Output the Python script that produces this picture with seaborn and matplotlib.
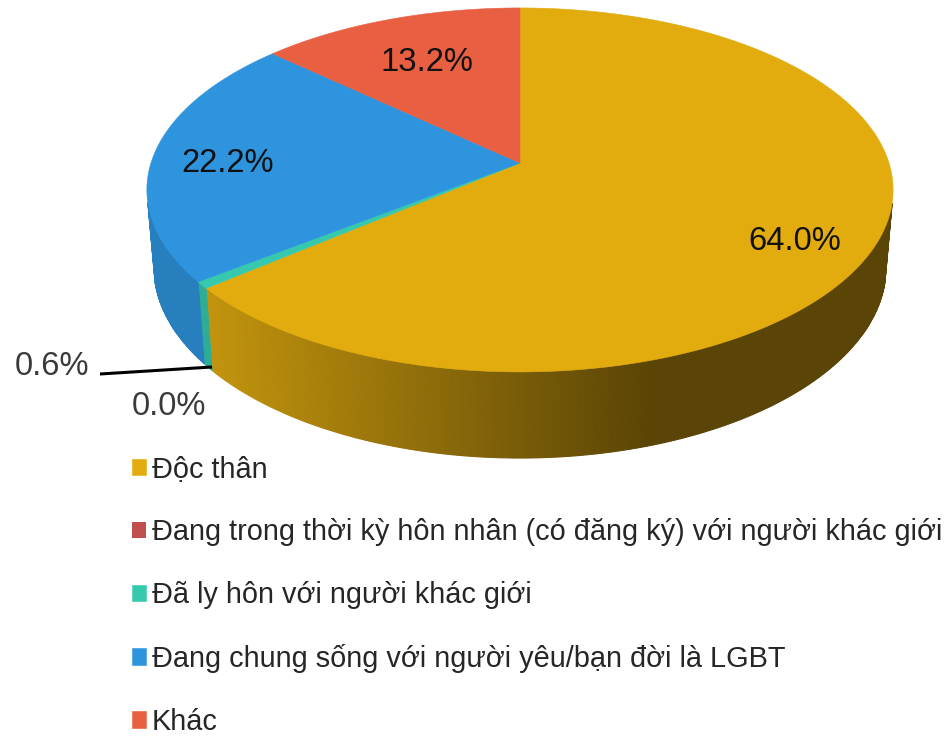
import numpy as np
import seaborn as sns
import matplotlib.pyplot as plt

labels = [
    "Độc thân",
    "Đang trong thời kỳ hôn nhân (có đăng ký) với người khác giới",
    "Đã ly hôn với người khác giới",
    "Đang chung sống với người yêu/bạn đời là LGBT",
    "Khác",
]
values = [64.0, 0.0, 0.6, 22.2, 13.2]
value_text = ["64.0%", "0.0%", "0.6%", "22.2%", "13.2%"]
colors = ["#E2AC0F", "#C0504D", "#36C9AE", "#2D94DD", "#E95F42"]

sns.set_theme(style="white")
plt.rcParams["font.family"] = ["Liberation Sans", "DejaVu Sans"]
palette = sns.color_palette(colors)


# perspective view of the pie: k tilts the disc, the rest are pixel sizes
def project(frac, top=True):
    a = 2 * np.pi * np.asarray(frac) / 100
    u, v = np.sin(a), np.cos(a)
    w = 1 + 0.148 * v
    if top:
        return 520 + 369 * u / w, 163 - 178 * v / w
    return 520 + 362 * u / w, 239 - 186.6 * v / w


def shade(x):
    return np.interp(x, [205, 650], [0.86, 0.40])


fig = plt.figure(figsize=(9.47, 7.37), dpi=100)
ax = fig.add_axes([0, 0, 1, 1])
ax.set_xlim(0, 947)
ax.set_ylim(737, 0)
ax.axis("off")

edges = np.concatenate([[0], np.cumsum(values)])

# side wall
for i, col in enumerate(palette):
    if values[i] == 0:
        continue
    n = max(int(values[i] * 8), 2)
    fr = np.linspace(edges[i], edges[i + 1], n + 1)
    xt, yt = project(fr)
    xb, yb = project(fr, top=False)
    for j in range(n):
        mid = (fr[j] + fr[j + 1]) / 2
        if np.cos(2 * np.pi * mid / 100) > -0.22:
            continue
        f = shade((xt[j] + xt[j + 1]) / 2)
        c = tuple(np.array(col) * f)
        ax.fill([xt[j], xt[j + 1], xb[j + 1], xb[j]], [yt[j], yt[j + 1], yb[j + 1], yb[j]],
                color=c, lw=0.8)

# top face
handles = []
for i, col in enumerate(palette):
    n = max(int(values[i] * 8), 2)
    fr = np.linspace(edges[i], edges[i + 1], n + 1)
    xt, yt = project(fr)
    lw = 0 if values[i] == 0 else 0.4
    h = ax.fill(np.r_[520, xt], np.r_[163, yt], color=col, lw=lw, label=labels[i])[0]
    handles.append(h)

# value labels
ax.text(795, 241, value_text[0], fontsize=23.6, color="#111111", ha="center", va="center")
ax.text(169, 406, value_text[1], fontsize=23.6, color="#3a3a3a", ha="center", va="center")
ax.text(52, 366, value_text[2], fontsize=23.6, color="#3a3a3a", ha="center", va="center")
ax.text(228, 163, value_text[3], fontsize=23.6, color="#111111", ha="center", va="center")
ax.text(427, 62, value_text[4], fontsize=23.6, color="#111111", ha="center", va="center")
ax.plot([100, 212], [374, 367], color="black", lw=2.2, solid_capstyle="butt")

leg = ax.legend(handles=handles, loc="upper left", bbox_to_anchor=(132 / 947, 1 - 455 / 737),
                frameon=False, fontsize=20.8, labelcolor="#262626", handlelength=0.49,
                handleheight=0.49, handletextpad=0.2, labelspacing=1.21, borderpad=0,
                borderaxespad=0)

fig.savefig("out.png", dpi=100)
